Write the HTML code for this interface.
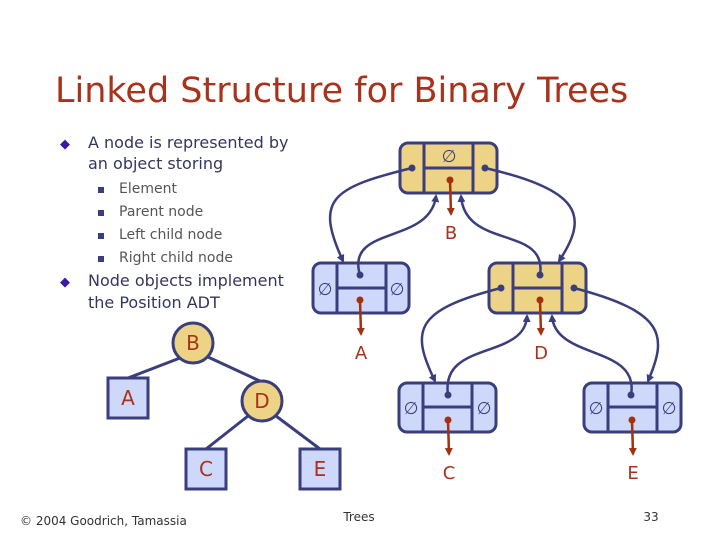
<!DOCTYPE html>
<html><head><meta charset="utf-8"><style>
body{margin:0;width:720px;height:540px;background:#fff;overflow:hidden;font-family:"DejaVu Sans","Liberation Sans",sans-serif;}
svg{position:absolute;left:0;top:0}
</style></head><body>
<svg width="720" height="540" viewBox="0 0 720 540" xmlns="http://www.w3.org/2000/svg">
<defs>
<marker id="ab" markerWidth="8" markerHeight="8" refX="6" refY="4" orient="auto" markerUnits="userSpaceOnUse"><path d="M0,0 L8,4 L0,8 z" fill="#3b3e7c"/></marker>
<marker id="ar" markerWidth="8" markerHeight="8" refX="6" refY="4" orient="auto" markerUnits="userSpaceOnUse"><path d="M0,0 L8,4 L0,8 z" fill="#a3300f"/></marker>
</defs>
<text x="55" y="102" font-family="DejaVu Sans, sans-serif" font-size="35" fill="#a8321c">Linked Structure for Binary Trees</text>
<g font-family="DejaVu Sans, sans-serif" fill="#35365e">
<text x="60" y="148" font-size="13" fill="#3a1aa0">◆</text>
<text x="88" y="148" font-size="16">A node is represented by</text>
<text x="88" y="169" font-size="16">an object storing</text>
<g font-size="14" fill="#555">
<rect x="98" y="187" width="6" height="6" fill="#3b3e7c"/><text x="119" y="193">Element</text>
<rect x="98" y="210" width="6" height="6" fill="#3b3e7c"/><text x="119" y="216">Parent node</text>
<rect x="98" y="233" width="6" height="6" fill="#3b3e7c"/><text x="119" y="239">Left child node</text>
<rect x="98" y="256" width="6" height="6" fill="#3b3e7c"/><text x="119" y="262">Right child node</text>
</g>
<text x="60" y="286" font-size="13" fill="#3a1aa0">◆</text>
<text x="88" y="286" font-size="16">Node objects implement</text>
<text x="88" y="308" font-size="16">the Position ADT</text>
</g>
<!-- left tree -->
<g stroke="#3b3e7c" stroke-width="3" fill="none">
<line x1="180" y1="358" x2="128" y2="378"/>
<line x1="208" y1="357" x2="262" y2="382"/>
<line x1="248" y1="416" x2="206" y2="449"/>
<line x1="276" y1="416" x2="320" y2="449"/>
</g>
<g stroke="#3b3e7c" stroke-width="3">
<circle cx="193" cy="343" r="20" fill="#ecd385"/>
<circle cx="262" cy="401" r="20" fill="#ecd385"/>
<rect x="108" y="378" width="40" height="40" fill="#cdd8fb"/>
<rect x="186" y="449" width="40" height="40" fill="#cdd8fb"/>
<rect x="300" y="449" width="40" height="40" fill="#cdd8fb"/>
</g>
<g font-family="DejaVu Sans, sans-serif" font-size="20" fill="#a8321c" text-anchor="middle">
<text x="193" y="350">B</text><text x="128" y="405">A</text><text x="262" y="408">D</text><text x="206" y="476">C</text><text x="320" y="476">E</text>
</g>
<!-- nodes -->
<g stroke="#3b3e7c" stroke-width="3">
<rect x="400" y="143" width="97" height="50" rx="8" fill="#ecd385"/>
<rect x="313" y="263" width="96" height="50" rx="8" fill="#cdd8fb"/>
<rect x="489" y="263" width="97" height="50" rx="8" fill="#ecd385"/>
<rect x="399" y="383" width="97" height="49" rx="8" fill="#cdd8fb"/>
<rect x="584" y="383" width="97" height="49" rx="8" fill="#cdd8fb"/>
<path d="M424,143V193M473,143V193M424,168H473"/>
<path d="M337,263V313M386,263V313M337,288H386"/>
<path d="M513,263V313M562,263V313M513,288H562"/>
<path d="M423,383V432M472,383V432M423,407H472"/>
<path d="M608,383V432M657,383V432M608,407H657"/>
</g>
<g font-family="DejaVu Sans, sans-serif" font-size="17" fill="#3b3e7c" text-anchor="middle">
<text x="449" y="162">∅</text>
<text x="325" y="295">∅</text><text x="397" y="295">∅</text>
<text x="411" y="414">∅</text><text x="484" y="414">∅</text>
<text x="596" y="414">∅</text><text x="669" y="414">∅</text>
</g>
<!-- blue connectors -->
<g stroke="#3b3e7c" stroke-width="2.5" fill="none" marker-end="url(#ab)">
<path d="M412,168 C330,188 315,200 343,261"/>
<path d="M360,275 C345,225 430,245 436,196"/>
<path d="M485,168 C580,190 590,215 559,261"/>
<path d="M540,275 C548,225 465,250 461,196"/>
<path d="M501,288 C415,310 410,330 435,381"/>
<path d="M448,395 C440,340 525,360 527,316"/>
<path d="M574,288 C665,312 668,335 648,381"/>
<path d="M631,395 C640,345 555,360 552,316"/>
</g>
<g fill="#3b3e7c">
<circle cx="412" cy="168" r="3.5"/><circle cx="485" cy="168" r="3.5"/>
<circle cx="360" cy="275" r="3.5"/><circle cx="540" cy="275" r="3.5"/>
<circle cx="501" cy="288" r="3.5"/><circle cx="574" cy="288" r="3.5"/>
<circle cx="448" cy="395" r="3.5"/><circle cx="631" cy="395" r="3.5"/>
</g>
<!-- red element arrows -->
<g stroke="#a3300f" stroke-width="2.5" fill="none" marker-end="url(#ar)">
<path d="M450,180 L451,214"/>
<path d="M360,300 L361,334"/>
<path d="M540,300 L541,334"/>
<path d="M448,420 L449,454"/>
<path d="M632,420 L633,454"/>
</g>
<g fill="#a3300f">
<circle cx="450" cy="180" r="3.5"/><circle cx="360" cy="300" r="3.5"/><circle cx="540" cy="300" r="3.5"/><circle cx="448" cy="420" r="3.5"/><circle cx="632" cy="420" r="3.5"/>
</g>
<g font-family="DejaVu Sans, sans-serif" font-size="18" fill="#a8321c" text-anchor="middle">
<text x="451" y="239">B</text><text x="361" y="359">A</text><text x="541" y="359">D</text><text x="449" y="479">C</text><text x="633" y="479">E</text>
</g>
<g font-family="DejaVu Sans, sans-serif" font-size="12" fill="#333">
<text x="20" y="525">© 2004 Goodrich, Tamassia</text>
<text x="359" y="521" text-anchor="middle">Trees</text>
<text x="651" y="521" text-anchor="middle">33</text>
</g>
</svg>
</body></html>
